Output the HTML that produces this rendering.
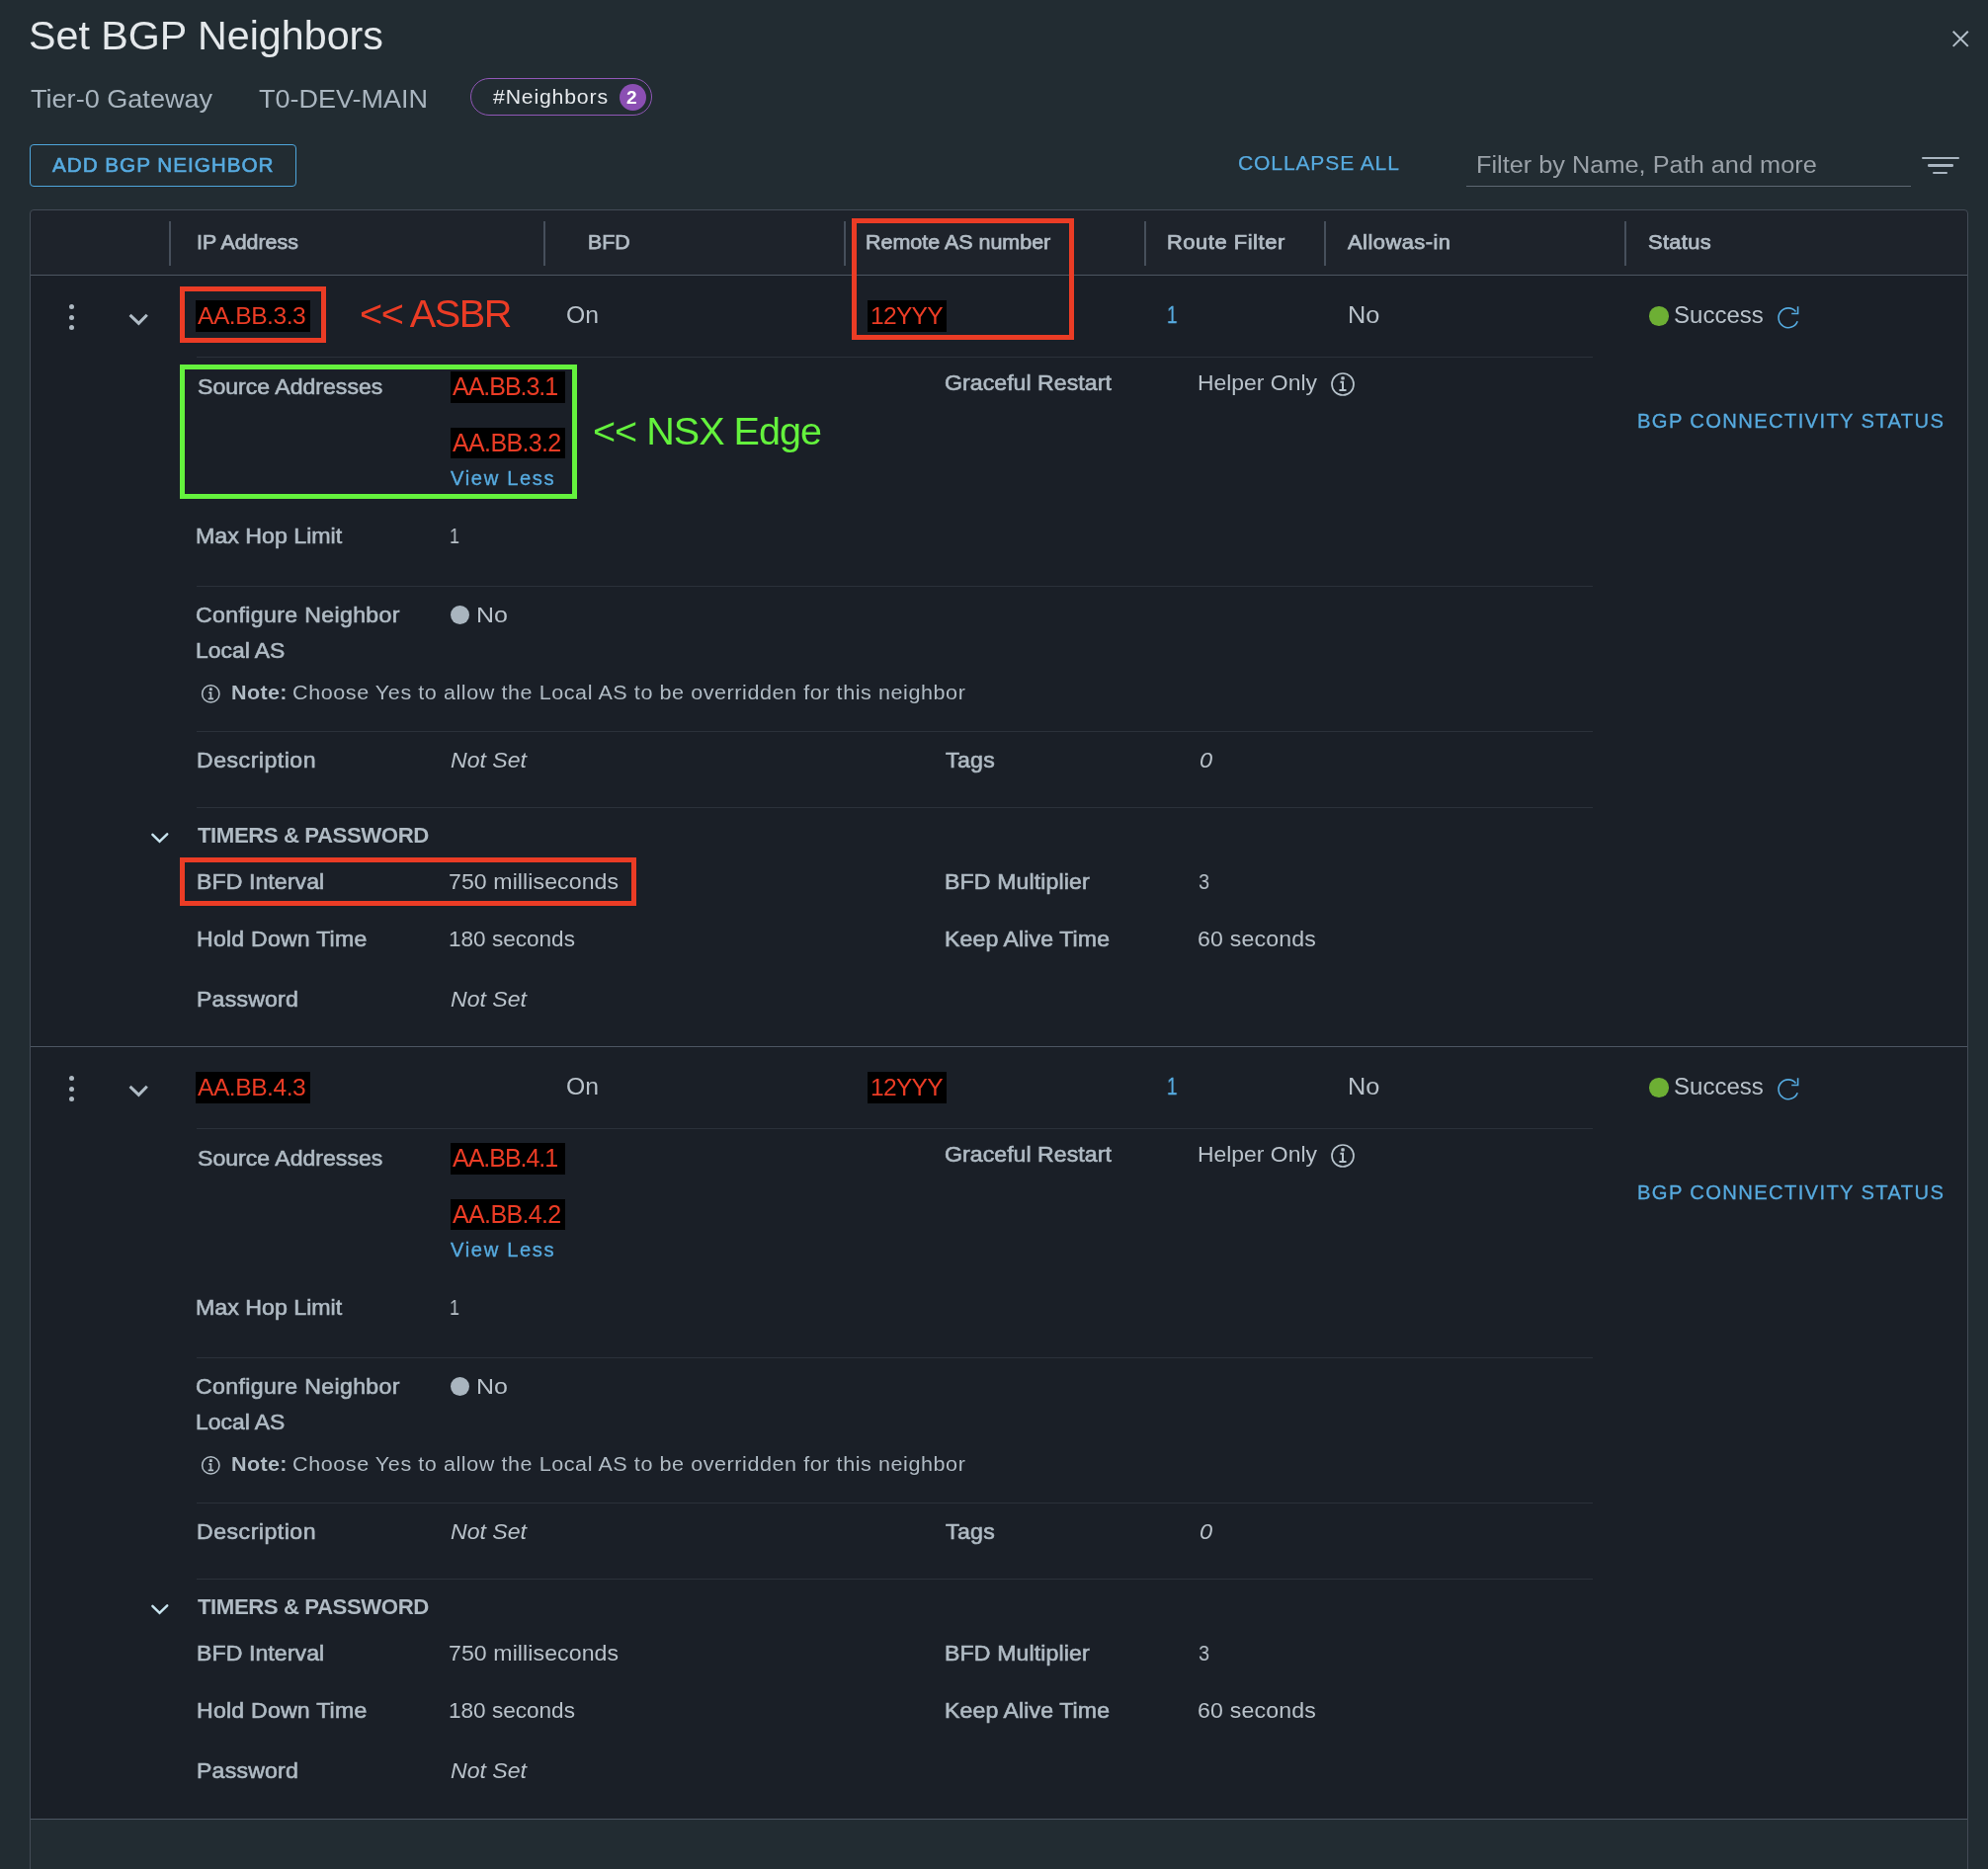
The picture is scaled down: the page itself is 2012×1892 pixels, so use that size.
<!DOCTYPE html>
<html><head><meta charset="utf-8"><title>Set BGP Neighbors</title>
<style>
html,body{margin:0;padding:0;}
body{width:2012px;height:1892px;overflow:hidden;background:#222c32;position:relative;font-family:"Liberation Sans",sans-serif;}
.r{position:absolute;}
.t{position:absolute;white-space:nowrap;will-change:transform;}
</style></head><body>
<div class="r" style="left:30px;top:212px;width:1962px;height:1700px;border:1px solid #434b56;border-radius:4px;box-sizing:border-box;background:#1e232b"></div>
<div class="r" style="left:31px;top:1842px;width:1960px;height:60px;background:#222c32;"></div>
<div class="r" style="left:31px;top:278px;width:1960px;height:1px;background:#4d5662;"></div>
<div class="r" style="left:31px;top:279px;width:1960px;height:1562px;background:#1a1f27;"></div>
<div class="r" style="left:31px;top:1059px;width:1960px;height:1px;background:#4d5662;"></div>
<div class="r" style="left:31px;top:1841px;width:1960px;height:1px;background:#4d5662;"></div>
<div class="r" style="left:171px;top:224px;width:2px;height:45px;background:#464f5b;"></div>
<div class="r" style="left:550px;top:224px;width:2px;height:45px;background:#464f5b;"></div>
<div class="r" style="left:854px;top:224px;width:2px;height:45px;background:#464f5b;"></div>
<div class="r" style="left:1158px;top:224px;width:2px;height:45px;background:#464f5b;"></div>
<div class="r" style="left:1340px;top:224px;width:2px;height:45px;background:#464f5b;"></div>
<div class="r" style="left:1644px;top:224px;width:2px;height:45px;background:#464f5b;"></div>
<div class="r" style="left:199px;top:361px;width:1413px;height:1px;background:#2b313a;"></div>
<div class="r" style="left:199px;top:593px;width:1413px;height:1px;background:#2b313a;"></div>
<div class="r" style="left:199px;top:740px;width:1413px;height:1px;background:#2b313a;"></div>
<div class="r" style="left:199px;top:817px;width:1413px;height:1px;background:#2b313a;"></div>
<div class="r" style="left:69.9px;top:308.4px;width:5px;height:5px;border-radius:50%;background:#adb8c1"></div>
<div class="r" style="left:69.9px;top:318.9px;width:5px;height:5px;border-radius:50%;background:#adb8c1"></div>
<div class="r" style="left:69.9px;top:329.3px;width:5px;height:5px;border-radius:50%;background:#adb8c1"></div>
<svg class="r" style="left:128px;top:314.6px" width="26" height="18" viewBox="0 0 26 18"><path d="M3.6 3.9 L12.4 12.4 L20.8 3.7" fill="none" stroke="#b0bcc6" stroke-width="3"/></svg>
<div class="r" style="left:198px;top:304px;width:116px;height:31.7px;background:#000;"></div>
<div class="r" style="left:878px;top:304px;width:80px;height:31.7px;background:#000;"></div>
<div class="r" style="left:456px;top:375.9px;width:116px;height:31.9px;background:#000;"></div>
<div class="r" style="left:456px;top:433.1px;width:116px;height:31.4px;background:#000;"></div>
<div class="r" style="left:1669px;top:310px;width:19.6px;height:19.6px;border-radius:50%;background:#6daf34"></div>
<svg class="r" style="left:1797px;top:308px" width="28" height="28" viewBox="0 0 28 28"><path d="M20.5 7.4 A9.9 9.9 0 1 0 22.2 17.2" fill="none" stroke="#55abe0" stroke-width="1.6"/><path d="M22.6 2.2 V9.5 H16.2" fill="none" stroke="#55abe0" stroke-width="1.6"/></svg>
<svg class="r" style="left:1346px;top:377px" width="26" height="26" viewBox="0 0 26 26"><circle cx="13" cy="12" r="11" fill="none" stroke="#b6c2cb" stroke-width="1.7"/><rect x="11.3" y="4.2" width="3.4" height="3.4" rx="0.8" fill="#b6c2cb"/><path d="M10.4 9.8 H13 V18 M9.4 18 H16.5" fill="none" stroke="#b6c2cb" stroke-width="2"/></svg>
<div class="r" style="left:456px;top:613px;width:19.4px;height:19.4px;border-radius:50%;background:#a9b5bf"></div>
<svg class="r" style="left:203px;top:692px" width="21" height="21" viewBox="0 0 21 21"><circle cx="10.3" cy="10.4" r="8.65" fill="none" stroke="#b3bec7" stroke-width="1.5"/><rect x="8.9" y="4.2" width="2.9" height="2.9" rx="0.7" fill="#b3bec7"/><path d="M8.3 9.2 H10.4 V15.3 M7.7 15.3 H13.1" fill="none" stroke="#b3bec7" stroke-width="1.7"/></svg>
<svg class="r" style="left:150px;top:841px" width="24" height="16" viewBox="0 0 24 16"><path d="M4.4 3.8 L11.5 10.8 L19.2 3.4" fill="none" stroke="#c8e4ef" stroke-width="2.5" stroke-linecap="round"/></svg>
<div class="r" style="left:182.4px;top:289.7px;width:147.9px;height:57.3px;border:5.3px solid #eb3c25;box-sizing:border-box"></div>
<div class="r" style="left:862px;top:221.2px;width:224.7px;height:122.4px;border:5.4px solid #eb3c25;box-sizing:border-box"></div>
<div class="r" style="left:182.3px;top:369.3px;width:401.3px;height:136.2px;border:5.4px solid #64f23d;box-sizing:border-box"></div>
<div class="r" style="left:182px;top:867.8px;width:462.4px;height:49.3px;border:5.2px solid #eb3c25;box-sizing:border-box"></div>
<div class="r" style="left:199px;top:1142px;width:1413px;height:1px;background:#2b313a;"></div>
<div class="r" style="left:199px;top:1374px;width:1413px;height:1px;background:#2b313a;"></div>
<div class="r" style="left:199px;top:1521px;width:1413px;height:1px;background:#2b313a;"></div>
<div class="r" style="left:199px;top:1598px;width:1413px;height:1px;background:#2b313a;"></div>
<div class="r" style="left:69.9px;top:1089.4px;width:5px;height:5px;border-radius:50%;background:#adb8c1"></div>
<div class="r" style="left:69.9px;top:1099.9px;width:5px;height:5px;border-radius:50%;background:#adb8c1"></div>
<div class="r" style="left:69.9px;top:1110.3px;width:5px;height:5px;border-radius:50%;background:#adb8c1"></div>
<svg class="r" style="left:128px;top:1095.6px" width="26" height="18" viewBox="0 0 26 18"><path d="M3.6 3.9 L12.4 12.4 L20.8 3.7" fill="none" stroke="#b0bcc6" stroke-width="3"/></svg>
<div class="r" style="left:198px;top:1085px;width:116px;height:31.7px;background:#000;"></div>
<div class="r" style="left:878px;top:1085px;width:80px;height:31.7px;background:#000;"></div>
<div class="r" style="left:456px;top:1156.9px;width:116px;height:31.9px;background:#000;"></div>
<div class="r" style="left:456px;top:1214.1px;width:116px;height:31.4px;background:#000;"></div>
<div class="r" style="left:1669px;top:1091px;width:19.6px;height:19.6px;border-radius:50%;background:#6daf34"></div>
<svg class="r" style="left:1797px;top:1089px" width="28" height="28" viewBox="0 0 28 28"><path d="M20.5 7.4 A9.9 9.9 0 1 0 22.2 17.2" fill="none" stroke="#55abe0" stroke-width="1.6"/><path d="M22.6 2.2 V9.5 H16.2" fill="none" stroke="#55abe0" stroke-width="1.6"/></svg>
<svg class="r" style="left:1346px;top:1158px" width="26" height="26" viewBox="0 0 26 26"><circle cx="13" cy="12" r="11" fill="none" stroke="#b6c2cb" stroke-width="1.7"/><rect x="11.3" y="4.2" width="3.4" height="3.4" rx="0.8" fill="#b6c2cb"/><path d="M10.4 9.8 H13 V18 M9.4 18 H16.5" fill="none" stroke="#b6c2cb" stroke-width="2"/></svg>
<div class="r" style="left:456px;top:1394px;width:19.4px;height:19.4px;border-radius:50%;background:#a9b5bf"></div>
<svg class="r" style="left:203px;top:1473px" width="21" height="21" viewBox="0 0 21 21"><circle cx="10.3" cy="10.4" r="8.65" fill="none" stroke="#b3bec7" stroke-width="1.5"/><rect x="8.9" y="4.2" width="2.9" height="2.9" rx="0.7" fill="#b3bec7"/><path d="M8.3 9.2 H10.4 V15.3 M7.7 15.3 H13.1" fill="none" stroke="#b3bec7" stroke-width="1.7"/></svg>
<svg class="r" style="left:150px;top:1622px" width="24" height="16" viewBox="0 0 24 16"><path d="M4.4 3.8 L11.5 10.8 L19.2 3.4" fill="none" stroke="#c8e4ef" stroke-width="2.5" stroke-linecap="round"/></svg>
<div class="r" style="left:476px;top:79.2px;width:184px;height:37.5px;border:1.5px solid #9157b7;border-radius:19px;box-sizing:border-box"></div>
<div class="r" style="left:627px;top:85px;width:27.3px;height:27.3px;border-radius:50%;background:#8b4fb3"></div>
<div class="r" style="left:30px;top:146px;width:270px;height:43px;border:1.5px solid #4fa6dc;border-radius:4px;box-sizing:border-box"></div>
<div class="r" style="left:1484px;top:188px;width:450px;height:1px;background:#5e6873;"></div>
<div class="r" style="left:1944.5px;top:159.1px;width:38.3px;height:2.3px;background:#a9b5c0;border-radius:1.2px"></div>
<div class="r" style="left:1950.6px;top:166.4px;width:26.2px;height:2.3px;background:#a9b5c0;border-radius:1.2px"></div>
<div class="r" style="left:1956px;top:173.5px;width:14.8px;height:2.3px;background:#a9b5c0;border-radius:1.2px"></div>
<svg class="r" style="left:1974px;top:29px" width="20" height="20" viewBox="0 0 20 20"><path d="M2.7 2.8 L17.8 17.9 M17.8 2.8 L2.7 17.9" stroke="#b4c0ca" stroke-width="2"/></svg>
<div class="t" style="left:28.99px;top:16.2px;font-size:40.99px;line-height:40.99px;color:#e4e8eb;transform:scaleX(1.0055);transform-origin:0 0;">Set BGP Neighbors</div>
<div class="t" style="left:31px;top:87.1px;font-size:26.31px;line-height:26.31px;color:#a9b5bf;transform:scaleX(1.0299);transform-origin:0 0;">Tier-0 Gateway</div>
<div class="t" style="left:262px;top:87.1px;font-size:26.31px;line-height:26.31px;color:#a9b5bf;transform:scaleX(1.0269);transform-origin:0 0;">T0-DEV-MAIN</div>
<div class="t" style="left:499px;top:88px;font-size:20.06px;line-height:20.06px;color:#e6e9ec;letter-spacing:0.77px;transform:scaleX(1.0600);transform-origin:0 0;">#Neighbors</div>
<div class="t" style="left:53px;top:157.2px;font-size:20.35px;line-height:20.35px;color:#57abe0;letter-spacing:0.92px;-webkit-text-stroke:0.6px #57abe0;transform:scaleX(1.0200);transform-origin:0 0;">ADD BGP NEIGHBOR</div>
<div class="t" style="left:1253.48px;top:155.2px;font-size:20.64px;line-height:20.64px;color:#57abe0;letter-spacing:0.86px;-webkit-text-stroke:0.25px #57abe0;transform:scaleX(1.0200);transform-origin:0 0;">COLLAPSE ALL</div>
<div class="t" style="left:1493.94px;top:154.6px;font-size:24.56px;line-height:24.56px;color:#9aa1a8;transform:scaleX(1.0314);transform-origin:0 0;">Filter by Name, Path and more</div>
<div class="t" style="left:198.97px;top:235.2px;font-size:20.64px;line-height:20.64px;color:#b2bcc5;-webkit-text-stroke:0.75px #b2bcc5;transform:scaleX(1.0345);transform-origin:0 0;">IP Address</div>
<div class="t" style="left:594.97px;top:235.2px;font-size:20.64px;line-height:20.64px;color:#b2bcc5;-webkit-text-stroke:0.75px #b2bcc5;transform:scaleX(1.0316);transform-origin:0 0;">BFD</div>
<div class="t" style="left:876.46px;top:235.2px;font-size:20.64px;line-height:20.64px;color:#b2bcc5;-webkit-text-stroke:0.75px #b2bcc5;transform:scaleX(1.0402);transform-origin:0 0;">Remote AS number</div>
<div class="t" style="left:1180.64px;top:235.2px;font-size:20.64px;line-height:20.64px;color:#b2bcc5;letter-spacing:0.53px;-webkit-text-stroke:0.75px #b2bcc5;transform:scaleX(1.0600);transform-origin:0 0;">Route Filter</div>
<div class="t" style="left:1364.3px;top:235.2px;font-size:20.64px;line-height:20.64px;color:#b2bcc5;letter-spacing:0.46px;-webkit-text-stroke:0.75px #b2bcc5;transform:scaleX(1.0600);transform-origin:0 0;">Allowas-in</div>
<div class="t" style="left:1667.7px;top:235.2px;font-size:20.64px;line-height:20.64px;color:#b2bcc5;letter-spacing:0.31px;-webkit-text-stroke:0.75px #b2bcc5;transform:scaleX(1.0600);transform-origin:0 0;">Status</div>
<div class="t" style="left:572.76px;top:307.8px;font-size:23.69px;line-height:23.69px;color:#b9c2ca;transform:scaleX(1.0433);transform-origin:0 0;">On</div>
<div class="t" style="left:1180.6px;top:307.8px;font-size:23.69px;line-height:23.69px;color:#57abe0;-webkit-text-stroke:0.4px #57abe0;transform:scaleX(0.8000);transform-origin:0 0;">1</div>
<div class="t" style="left:1363.53px;top:307.8px;font-size:23.69px;line-height:23.69px;color:#b9c2ca;transform:scaleX(1.0685);transform-origin:0 0;">No</div>
<div class="t" style="left:1694.49px;top:307.8px;font-size:23.69px;line-height:23.69px;color:#b9c2ca;transform:scaleX(1.0139);transform-origin:0 0;">Success</div>
<div class="t" style="left:200px;top:307.7px;font-size:24.56px;line-height:24.56px;color:#eb3c25;letter-spacing:-0.45px;">AA.BB.3.3</div>
<div class="t" style="left:880.7px;top:307.7px;font-size:24.56px;line-height:24.56px;color:#eb3c25;letter-spacing:-0.69px;">12YYY</div>
<div class="t" style="left:457.8px;top:379.1px;font-size:25px;line-height:25px;color:#eb3c25;letter-spacing:-1.02px;">AA.BB.3.1</div>
<div class="t" style="left:457.8px;top:436px;font-size:25px;line-height:25px;color:#eb3c25;letter-spacing:-0.64px;">AA.BB.3.2</div>
<div class="t" style="left:364px;top:298.3px;font-size:39.68px;line-height:39.68px;color:#eb3c25;letter-spacing:-1.46px;">&lt;&lt; ASBR</div>
<div class="t" style="left:599.7px;top:416.7px;font-size:39.54px;line-height:39.54px;color:#64f23d;letter-spacing:-0.98px;">&lt;&lt; NSX Edge</div>
<div class="t" style="left:199.7px;top:380.7px;font-size:21.8px;line-height:21.8px;color:#b0bbc4;-webkit-text-stroke:0.6px #b0bbc4;transform:scaleX(1.0589);transform-origin:0 0;">Source Addresses</div>
<div class="t" style="left:456.3px;top:474.8px;font-size:19.77px;line-height:19.77px;color:#57abe0;letter-spacing:1.61px;-webkit-text-stroke:0.35px #57abe0;transform:scaleX(1.0200);transform-origin:0 0;">View Less</div>
<div class="t" style="left:955.94px;top:377px;font-size:21.8px;line-height:21.8px;color:#b0bbc4;letter-spacing:0.04px;-webkit-text-stroke:0.6px #b0bbc4;transform:scaleX(1.0600);transform-origin:0 0;">Graceful Restart</div>
<div class="t" style="left:1211.85px;top:377px;font-size:21.8px;line-height:21.8px;color:#b9c2ca;transform:scaleX(1.0509);transform-origin:0 0;">Helper Only</div>
<div class="t" style="left:1656.8px;top:415.8px;font-size:20.2px;line-height:20.2px;color:#57abe0;letter-spacing:1.36px;-webkit-text-stroke:0.3px #57abe0;">BGP CONNECTIVITY STATUS</div>
<div class="t" style="left:198.46px;top:532px;font-size:22.24px;line-height:22.24px;color:#b0bbc4;-webkit-text-stroke:0.6px #b0bbc4;transform:scaleX(1.0429);transform-origin:0 0;">Max Hop Limit</div>
<div class="t" style="left:454.5px;top:532px;font-size:22.24px;line-height:22.24px;color:#b9c2ca;transform:scaleX(0.8000);transform-origin:0 0;">1</div>
<div class="t" style="left:198.44px;top:612px;font-size:21.8px;line-height:21.8px;color:#b0bbc4;letter-spacing:0.34px;-webkit-text-stroke:0.6px #b0bbc4;transform:scaleX(1.0600);transform-origin:0 0;">Configure Neighbor</div>
<div class="t" style="left:198.45px;top:648px;font-size:21.8px;line-height:21.8px;color:#b0bbc4;-webkit-text-stroke:0.6px #b0bbc4;transform:scaleX(1.0501);transform-origin:0 0;">Local AS</div>
<div class="t" style="left:482.26px;top:612px;font-size:21.8px;line-height:21.8px;color:#b9c2ca;transform:scaleX(1.1443);transform-origin:0 0;">No</div>
<div class="t" style="left:234.24px;top:691.1px;font-size:20.35px;line-height:20.35px;color:#b0bbc4;letter-spacing:0.3px;font-weight:700;transform:scaleX(1.0600);transform-origin:0 0;">Note:</div>
<div class="t" style="left:296.24px;top:691.1px;font-size:20.35px;line-height:20.35px;color:#b0bbc4;letter-spacing:0.53px;transform:scaleX(1.0600);transform-origin:0 0;">Choose Yes to allow the Local AS to be overridden for this neighbor</div>
<div class="t" style="left:198.64px;top:759px;font-size:21.8px;line-height:21.8px;color:#b0bbc4;letter-spacing:0.47px;-webkit-text-stroke:0.6px #b0bbc4;transform:scaleX(1.0600);transform-origin:0 0;">Description</div>
<div class="t" style="left:456px;top:759px;font-size:21.8px;line-height:21.8px;color:#b9c2ca;font-style:italic;transform:scaleX(1.0593);transform-origin:0 0;">Not Set</div>
<div class="t" style="left:957.1px;top:759px;font-size:21.8px;line-height:21.8px;color:#b0bbc4;letter-spacing:0.34px;-webkit-text-stroke:0.6px #b0bbc4;transform:scaleX(1.0600);transform-origin:0 0;">Tags</div>
<div class="t" style="left:1213.9px;top:759px;font-size:21.8px;line-height:21.8px;color:#b9c2ca;font-style:italic;transform:scaleX(1.0833);transform-origin:0 0;">0</div>
<div class="t" style="left:200px;top:835px;font-size:22.24px;line-height:22.24px;color:#b0bbc4;letter-spacing:-0.46px;font-weight:700;">TIMERS &amp; PASSWORD</div>
<div class="t" style="left:198.64px;top:882px;font-size:21.8px;line-height:21.8px;color:#b0bbc4;letter-spacing:0.07px;-webkit-text-stroke:0.6px #b0bbc4;transform:scaleX(1.0600);transform-origin:0 0;">BFD Interval</div>
<div class="t" style="left:454.14px;top:882px;font-size:21.8px;line-height:21.8px;color:#b9c2ca;letter-spacing:0.08px;transform:scaleX(1.0600);transform-origin:0 0;">750 milliseconds</div>
<div class="t" style="left:955.94px;top:882px;font-size:21.8px;line-height:21.8px;color:#b0bbc4;letter-spacing:0.12px;-webkit-text-stroke:0.6px #b0bbc4;transform:scaleX(1.0600);transform-origin:0 0;">BFD Multiplier</div>
<div class="t" style="left:1213.1px;top:882px;font-size:21.8px;line-height:21.8px;color:#b9c2ca;transform:scaleX(0.9167);transform-origin:0 0;">3</div>
<div class="t" style="left:198.64px;top:940px;font-size:21.8px;line-height:21.8px;color:#b0bbc4;letter-spacing:0.2px;-webkit-text-stroke:0.6px #b0bbc4;transform:scaleX(1.0600);transform-origin:0 0;">Hold Down Time</div>
<div class="t" style="left:453.97px;top:940px;font-size:21.8px;line-height:21.8px;color:#b9c2ca;transform:scaleX(1.0350);transform-origin:0 0;">180 seconds</div>
<div class="t" style="left:955.94px;top:940px;font-size:21.8px;line-height:21.8px;color:#b0bbc4;letter-spacing:0.09px;-webkit-text-stroke:0.6px #b0bbc4;transform:scaleX(1.0600);transform-origin:0 0;">Keep Alive Time</div>
<div class="t" style="left:1211.94px;top:940px;font-size:21.8px;line-height:21.8px;color:#b9c2ca;letter-spacing:0.17px;transform:scaleX(1.0600);transform-origin:0 0;">60 seconds</div>
<div class="t" style="left:198.64px;top:1001px;font-size:21.8px;line-height:21.8px;color:#b0bbc4;letter-spacing:0.19px;-webkit-text-stroke:0.6px #b0bbc4;transform:scaleX(1.0600);transform-origin:0 0;">Password</div>
<div class="t" style="left:456.2px;top:1001px;font-size:21.8px;line-height:21.8px;color:#b9c2ca;font-style:italic;transform:scaleX(1.0593);transform-origin:0 0;">Not Set</div>
<div class="t" style="left:572.76px;top:1088.8px;font-size:23.69px;line-height:23.69px;color:#b9c2ca;transform:scaleX(1.0433);transform-origin:0 0;">On</div>
<div class="t" style="left:1180.6px;top:1088.8px;font-size:23.69px;line-height:23.69px;color:#57abe0;-webkit-text-stroke:0.4px #57abe0;transform:scaleX(0.8000);transform-origin:0 0;">1</div>
<div class="t" style="left:1363.53px;top:1088.8px;font-size:23.69px;line-height:23.69px;color:#b9c2ca;transform:scaleX(1.0685);transform-origin:0 0;">No</div>
<div class="t" style="left:1694.49px;top:1088.8px;font-size:23.69px;line-height:23.69px;color:#b9c2ca;transform:scaleX(1.0139);transform-origin:0 0;">Success</div>
<div class="t" style="left:200px;top:1088.7px;font-size:24.56px;line-height:24.56px;color:#eb3c25;letter-spacing:-0.45px;">AA.BB.4.3</div>
<div class="t" style="left:880.7px;top:1088.7px;font-size:24.56px;line-height:24.56px;color:#eb3c25;letter-spacing:-0.69px;">12YYY</div>
<div class="t" style="left:457.8px;top:1160.1px;font-size:25px;line-height:25px;color:#eb3c25;letter-spacing:-1.02px;">AA.BB.4.1</div>
<div class="t" style="left:457.8px;top:1217px;font-size:25px;line-height:25px;color:#eb3c25;letter-spacing:-0.64px;">AA.BB.4.2</div>
<div class="t" style="left:199.7px;top:1161.7px;font-size:21.8px;line-height:21.8px;color:#b0bbc4;-webkit-text-stroke:0.6px #b0bbc4;transform:scaleX(1.0589);transform-origin:0 0;">Source Addresses</div>
<div class="t" style="left:456.3px;top:1255.8px;font-size:19.77px;line-height:19.77px;color:#57abe0;letter-spacing:1.61px;-webkit-text-stroke:0.35px #57abe0;transform:scaleX(1.0200);transform-origin:0 0;">View Less</div>
<div class="t" style="left:955.94px;top:1158px;font-size:21.8px;line-height:21.8px;color:#b0bbc4;letter-spacing:0.04px;-webkit-text-stroke:0.6px #b0bbc4;transform:scaleX(1.0600);transform-origin:0 0;">Graceful Restart</div>
<div class="t" style="left:1211.85px;top:1158px;font-size:21.8px;line-height:21.8px;color:#b9c2ca;transform:scaleX(1.0509);transform-origin:0 0;">Helper Only</div>
<div class="t" style="left:1656.8px;top:1196.8px;font-size:20.2px;line-height:20.2px;color:#57abe0;letter-spacing:1.36px;-webkit-text-stroke:0.3px #57abe0;">BGP CONNECTIVITY STATUS</div>
<div class="t" style="left:198.46px;top:1313px;font-size:22.24px;line-height:22.24px;color:#b0bbc4;-webkit-text-stroke:0.6px #b0bbc4;transform:scaleX(1.0429);transform-origin:0 0;">Max Hop Limit</div>
<div class="t" style="left:454.5px;top:1313px;font-size:22.24px;line-height:22.24px;color:#b9c2ca;transform:scaleX(0.8000);transform-origin:0 0;">1</div>
<div class="t" style="left:198.44px;top:1393px;font-size:21.8px;line-height:21.8px;color:#b0bbc4;letter-spacing:0.34px;-webkit-text-stroke:0.6px #b0bbc4;transform:scaleX(1.0600);transform-origin:0 0;">Configure Neighbor</div>
<div class="t" style="left:198.45px;top:1429px;font-size:21.8px;line-height:21.8px;color:#b0bbc4;-webkit-text-stroke:0.6px #b0bbc4;transform:scaleX(1.0501);transform-origin:0 0;">Local AS</div>
<div class="t" style="left:482.26px;top:1393px;font-size:21.8px;line-height:21.8px;color:#b9c2ca;transform:scaleX(1.1443);transform-origin:0 0;">No</div>
<div class="t" style="left:234.24px;top:1472.1px;font-size:20.35px;line-height:20.35px;color:#b0bbc4;letter-spacing:0.3px;font-weight:700;transform:scaleX(1.0600);transform-origin:0 0;">Note:</div>
<div class="t" style="left:296.24px;top:1472.1px;font-size:20.35px;line-height:20.35px;color:#b0bbc4;letter-spacing:0.53px;transform:scaleX(1.0600);transform-origin:0 0;">Choose Yes to allow the Local AS to be overridden for this neighbor</div>
<div class="t" style="left:198.64px;top:1540px;font-size:21.8px;line-height:21.8px;color:#b0bbc4;letter-spacing:0.47px;-webkit-text-stroke:0.6px #b0bbc4;transform:scaleX(1.0600);transform-origin:0 0;">Description</div>
<div class="t" style="left:456px;top:1540px;font-size:21.8px;line-height:21.8px;color:#b9c2ca;font-style:italic;transform:scaleX(1.0593);transform-origin:0 0;">Not Set</div>
<div class="t" style="left:957.1px;top:1540px;font-size:21.8px;line-height:21.8px;color:#b0bbc4;letter-spacing:0.34px;-webkit-text-stroke:0.6px #b0bbc4;transform:scaleX(1.0600);transform-origin:0 0;">Tags</div>
<div class="t" style="left:1213.9px;top:1540px;font-size:21.8px;line-height:21.8px;color:#b9c2ca;font-style:italic;transform:scaleX(1.0833);transform-origin:0 0;">0</div>
<div class="t" style="left:200px;top:1616px;font-size:22.24px;line-height:22.24px;color:#b0bbc4;letter-spacing:-0.46px;font-weight:700;">TIMERS &amp; PASSWORD</div>
<div class="t" style="left:198.64px;top:1663px;font-size:21.8px;line-height:21.8px;color:#b0bbc4;letter-spacing:0.07px;-webkit-text-stroke:0.6px #b0bbc4;transform:scaleX(1.0600);transform-origin:0 0;">BFD Interval</div>
<div class="t" style="left:454.14px;top:1663px;font-size:21.8px;line-height:21.8px;color:#b9c2ca;letter-spacing:0.08px;transform:scaleX(1.0600);transform-origin:0 0;">750 milliseconds</div>
<div class="t" style="left:955.94px;top:1663px;font-size:21.8px;line-height:21.8px;color:#b0bbc4;letter-spacing:0.12px;-webkit-text-stroke:0.6px #b0bbc4;transform:scaleX(1.0600);transform-origin:0 0;">BFD Multiplier</div>
<div class="t" style="left:1213.1px;top:1663px;font-size:21.8px;line-height:21.8px;color:#b9c2ca;transform:scaleX(0.9167);transform-origin:0 0;">3</div>
<div class="t" style="left:198.64px;top:1721px;font-size:21.8px;line-height:21.8px;color:#b0bbc4;letter-spacing:0.2px;-webkit-text-stroke:0.6px #b0bbc4;transform:scaleX(1.0600);transform-origin:0 0;">Hold Down Time</div>
<div class="t" style="left:453.97px;top:1721px;font-size:21.8px;line-height:21.8px;color:#b9c2ca;transform:scaleX(1.0350);transform-origin:0 0;">180 seconds</div>
<div class="t" style="left:955.94px;top:1721px;font-size:21.8px;line-height:21.8px;color:#b0bbc4;letter-spacing:0.09px;-webkit-text-stroke:0.6px #b0bbc4;transform:scaleX(1.0600);transform-origin:0 0;">Keep Alive Time</div>
<div class="t" style="left:1211.94px;top:1721px;font-size:21.8px;line-height:21.8px;color:#b9c2ca;letter-spacing:0.17px;transform:scaleX(1.0600);transform-origin:0 0;">60 seconds</div>
<div class="t" style="left:198.64px;top:1782px;font-size:21.8px;line-height:21.8px;color:#b0bbc4;letter-spacing:0.19px;-webkit-text-stroke:0.6px #b0bbc4;transform:scaleX(1.0600);transform-origin:0 0;">Password</div>
<div class="t" style="left:456.2px;top:1782px;font-size:21.8px;line-height:21.8px;color:#b9c2ca;font-style:italic;transform:scaleX(1.0593);transform-origin:0 0;">Not Set</div>
<div class="t" style="left:634px;top:89px;font-size:19px;line-height:19px;font-weight:700;color:#fff">2</div>
</body></html>
